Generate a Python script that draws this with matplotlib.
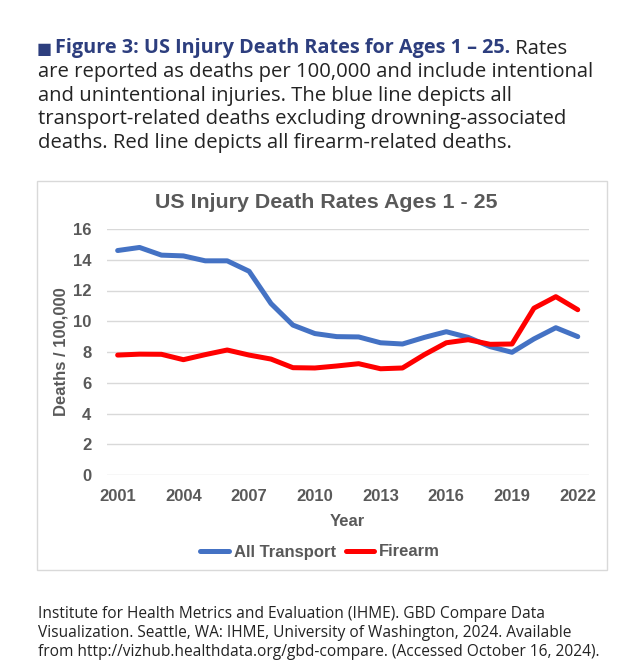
import matplotlib
matplotlib.use("Agg")
import matplotlib.pyplot as plt
from matplotlib.patches import Rectangle

# data (deaths per 100,000, ages 1-25)
years = list(range(2001, 2023))
transport = [14.6, 14.8, 14.3, 14.25, 13.93, 13.93, 13.25, 11.15, 9.75, 9.2, 9.0,
             8.98, 8.6, 8.52, 8.95, 9.32, 8.95, 8.35, 7.98, 8.85, 9.58, 9.0]
firearm = [7.8, 7.86, 7.85, 7.5, 7.83, 8.13, 7.8, 7.54, 6.98, 6.96, 7.09,
           7.24, 6.91, 6.96, 7.83, 8.6, 8.8, 8.5, 8.52, 10.85, 11.6, 10.75]
xtick_years = [2001, 2004, 2007, 2010, 2013, 2016, 2019, 2022]
yticks = [0, 2, 4, 6, 8, 10, 12, 14, 16]

W, H = 626, 668
fig = plt.figure(figsize=(W / 100, H / 100), dpi=100)


def fx(px):
    return px / W


def fy(py):
    return 1 - py / H


body_font = ["Open Sans", "DejaVu Sans"]
chart_font = "Liberation Sans"
grey = "#595959"
text_col = "#232323"
navy = "#2d3e7e"

# caption above the chart
fig.text(fx(37), fy(53.5), "\u25a0", family="DejaVu Sans", size=11.5, color=navy,
         va="baseline")
head = fig.text(fx(55), fy(53.5), "Figure 3: US Injury Death Rates for Ages 1 \u2013 25.",
                family=body_font, weight="bold", size=14.3, color=navy, va="baseline")
fig.canvas.draw()
bb = head.get_window_extent()
fig.text(bb.x1 / W, fy(53.5), " Rates", family=body_font, size=14.6,
         color=text_col, va="baseline")

cap_lines = [
    "are reported as deaths per 100,000 and include intentional",
    "and unintentional injuries. The blue line depicts all",
    "transport-related deaths excluding drowning-associated",
    "deaths. Red line depicts all firearm-related deaths.",
]
for i, line in enumerate(cap_lines):
    fig.text(fx(38), fy(77 + i * 23.7), line, family=body_font, size=14.6,
             color=text_col, va="baseline")

# chart frame
fig.patches.append(Rectangle((fx(37), fy(570)), fx(607) - fx(37), fy(181) - fy(570),
                             transform=fig.transFigure, fill=False,
                             edgecolor="#d9d9d9", lw=1))

fig.text(fx(326), fy(202), "US Injury Death Rates Ages 1 - 25", family=chart_font,
         weight="bold", size=15.4, color=grey, ha="center", va="center")

ax = fig.add_axes([fx(106.7), fy(475), fx(588.7) - fx(106.7), fy(229) - fy(475)])
ax.plot(years, transport, color="#4472c4", lw=3.6, label="All Transport",
        solid_capstyle="round", solid_joinstyle="round")
ax.plot(years, firearm, color="#ff0000", lw=3.6, label="Firearm",
        solid_capstyle="round", solid_joinstyle="round")

ax.set_xlim(2000.5, 2022.5)
ax.set_ylim(0, 16)
ax.set_yticks(yticks)
ax.set_xticks(xtick_years)
ax.grid(axis="y", color="#d9d9d9", lw=1)
ax.set_axisbelow(True)
for s in ax.spines.values():
    s.set_visible(False)
ax.tick_params(length=0, labelsize=12, labelcolor=grey)
for lab in ax.get_xticklabels() + ax.get_yticklabels():
    lab.set_family(chart_font)
    lab.set_weight("bold")
ax.tick_params(axis="x", pad=10)
ax.tick_params(axis="y", pad=11)

ax.set_xlabel("Year", family=chart_font, weight="bold", size=12, color=grey, labelpad=7)
ax.set_ylabel("Deaths / 100,000", family=chart_font, weight="bold", size=12, color=grey,
              labelpad=3)

leg = fig.legend(loc="center", bbox_to_anchor=(fx(320), fy(552)), ncol=2, frameon=False,
                 prop={"family": chart_font, "weight": "bold", "size": 12},
                 handlelength=1.7, handletextpad=0.3, columnspacing=0.6)
for t in leg.get_texts():
    t.set_color(grey)

# source note
foot = [
    "Institute for Health Metrics and Evaluation (IHME). GBD Compare Data",
    "Visualization. Seattle, WA: IHME, University of Washington, 2024. Available",
    "from http://vizhub.healthdata.org/gbd-compare. (Accessed October 16, 2024).",
]
for i, line in enumerate(foot):
    fig.text(fx(38), fy(618 + i * 19), line, family=body_font, size=11.2,
             color=text_col, va="baseline")

fig.savefig("out.png", dpi=100, facecolor="white")
